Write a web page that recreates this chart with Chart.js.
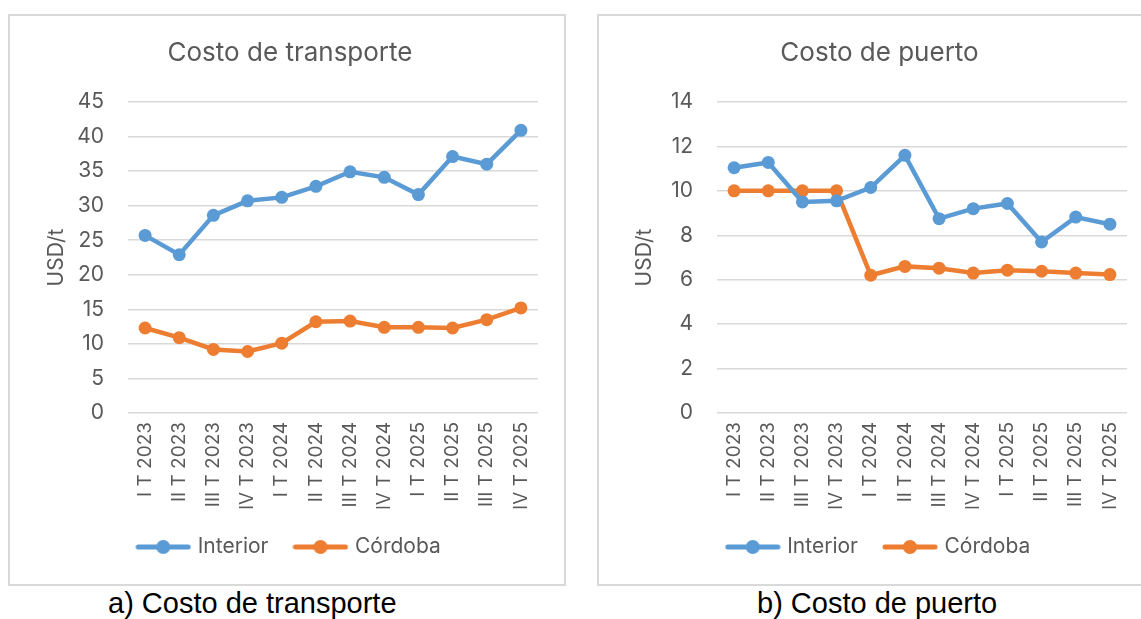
<!DOCTYPE html>
<html>
<head>
<meta charset="utf-8">
<script src="https://cdn.jsdelivr.net/npm/chart.js@4"></script>
<style>
  html, body { margin: 0; padding: 0; background: #fff; overflow: hidden; }
  body { width: 1141px; height: 619px; position: relative; }
  .panel { position: absolute; top: 14px; height: 568px; border: 2px solid #d9d9d9; }
  #p1 { left: 8px; width: 554px; }
  #p2 { left: 597px; width: 556px; }
  .caption { position: absolute; top: 587px; font-family: "Liberation Sans", Arial, sans-serif; font-size: 29px; color: #000; white-space: nowrap; }
</style>
</head>
<body>
<div class="panel" id="p1"><canvas id="c1" width="554" height="568"></canvas></div>
<div class="panel" id="p2"><canvas id="c2" width="556" height="568"></canvas></div>
<div class="caption" style="left:108px">a) Costo de transporte</div>
<div class="caption" style="left:757px">b) Costo de puerto</div>
<script>
const periods = ["I T 2023", "II T 2023", "III T 2023", "IV T 2023",
                 "I T 2024", "II T 2024", "III T 2024", "IV T 2024",
                 "I T 2025", "II T 2025", "III T 2025", "IV T 2025"];
const seriesNames = ["Interior", "Córdoba"];

const transporteInterior = [25.7, 22.9, 28.6, 30.7, 31.2, 32.8, 34.9, 34.1, 31.6, 37.1, 36.0, 40.9];
const transporteCordoba = [12.3, 10.9, 9.2, 8.9, 10.1, 13.2, 13.3, 12.4, 12.4, 12.3, 13.5, 15.2];

const puertoInterior = [11.04, 11.28, 9.5, 9.55, 10.15, 11.6, 8.75, 9.2, 9.43, 7.7, 8.82, 8.5];
const puertoCordoba = [10, 10, 10, 10, 6.2, 6.6, 6.52, 6.3, 6.43, 6.38, 6.3, 6.23];

const blue = "#5b9bd5";
const orange = "#ed7d31";
const gray = "#595959";
const font = "Inter";

// legend marker: thick line with a dot in the middle
function legendMark(color) {
  let c = document.createElement("canvas");
  c.width = 56; c.height = 16;
  let g = c.getContext("2d");
  g.strokeStyle = color;
  g.lineWidth = 5;
  g.lineCap = "round";
  g.beginPath(); g.moveTo(3, 8); g.lineTo(53, 8); g.stroke();
  g.fillStyle = color;
  g.beginPath(); g.arc(28, 8, 7, 0, Math.PI * 2); g.fill();
  return c;
}

function makeChart(id, title, interior, cordoba, yMax, yStep, leftPad, rightPad, yTitlePad) {
  let ctx = document.getElementById(id).getContext("2d");
  let series = [interior, cordoba];
  let colors = [blue, orange];
  return new Chart(ctx, {
    type: "line",
    data: {
      labels: periods,
      datasets: series.map(function (d, i) {
        return {
          label: seriesNames[i],
          data: d,
          borderColor: colors[i],
          backgroundColor: colors[i],
          borderWidth: 4.5,
          pointRadius: 6.5,
          pointBorderWidth: 0,
          pointBackgroundColor: colors[i],
          pointStyle: "circle",
          tension: 0,
        };
      }),
    },
    options: {
      responsive: false,
      animation: false,
      layout: { padding: { top: 0, left: leftPad, right: rightPad, bottom: 16.5 } },
      plugins: {
        title: {
          display: true,
          text: title,
          color: gray,
          font: { family: font, size: 26, weight: "normal" },
          padding: { top: 22, bottom: 32.8 },
        },
        legend: {
          position: "bottom",
          labels: {
            color: gray,
            font: { family: font, size: 21 },
            usePointStyle: true,
            pointStyleWidth: 48,
            padding: 28,
            generateLabels: function (chart) {
              return chart.data.datasets.map(function (ds, i) {
                return {
                  text: ds.label,
                  fillStyle: ds.borderColor,
                  strokeStyle: ds.borderColor,
                  fontColor: gray,
                  lineWidth: 0,
                  pointStyle: legendMark(ds.borderColor),
                  datasetIndex: i,
                };
              });
            },
          },
        },
        tooltip: { enabled: false },
      },
      scales: {
        x: {
          offset: true,
          grid: { display: false, drawTicks: false },
          border: { display: false },
          ticks: {
            color: gray,
            font: { family: font, size: 19 },
            minRotation: 90,
            maxRotation: 90,
            autoSkip: false,
            padding: 9,
          },
          afterFit: function (s) { s.height = 95.5; },
        },
        y: {
          min: 0,
          max: yMax,
          grid: { color: "#d9d9d9", lineWidth: 1.5, drawTicks: false },
          border: { display: false },
          ticks: {
            stepSize: yStep,
            color: gray,
            font: { family: font, size: 21 },
            padding: 24,
          },
          title: {
            display: true,
            text: "USD/t",
            color: gray,
            font: { family: font, size: 21 },
            padding: { top: yTitlePad, bottom: 0 },
          },
          afterFit: function (s) { s.width = 118 - leftPad; },
        },
      },
    },
  });
}

makeChart("c1", "Costo de transporte", transporteInterior, transporteCordoba, 45, 5, 32, 26, 2.4);
makeChart("c2", "Costo de puerto", puertoInterior, puertoCordoba, 14, 2, 33, 28, 0);
</script>
</body>
</html>
